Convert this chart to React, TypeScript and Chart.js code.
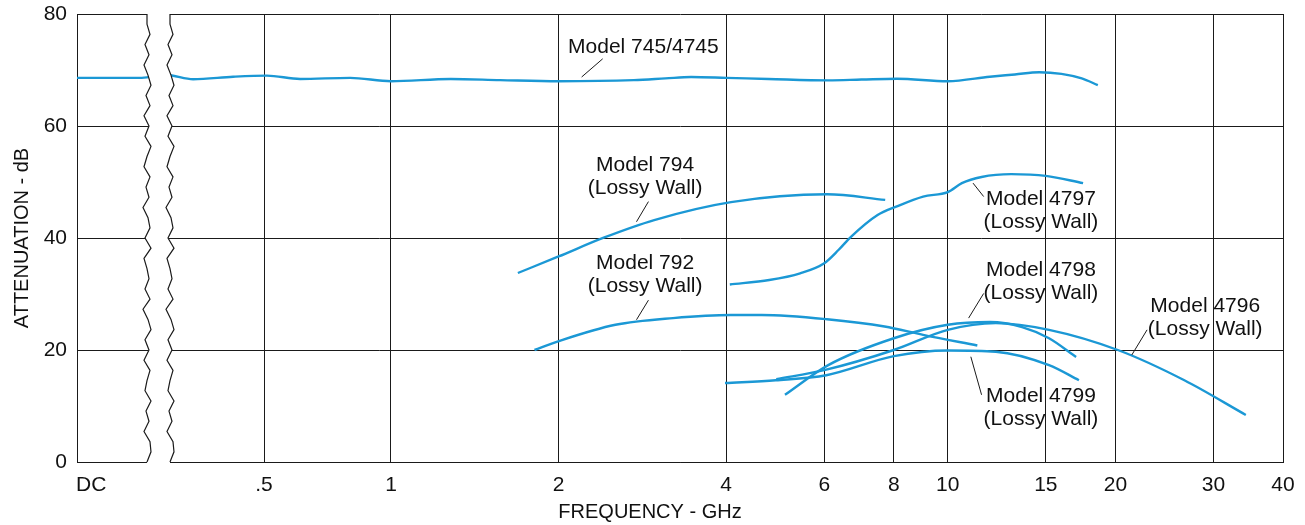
import React, { useEffect, useRef } from 'react';
import { Chart, LinearScale, registerables } from 'chart.js';

// ---------------- data ----------------
const X_TICK_VALUES = [0.035, 0.5, 1, 2, 4, 6, 8, 10, 15, 20, 30, 40];
const X_TICK_LABELS = ['DC', '.5', '1', '2', '4', '6', '8', '10', '15', '20', '30', '40'];
const Y_MIN = 0;
const Y_MAX = 80;
const Y_STEP = 20;

// Model 745/4745 (frequency 0 = DC side of the axis break)
const m745Freq = [0, 0.1, 0.16, 0.215, 0.271, 0.383, 0.508, 0.609, 0.8, 1.0, 1.28, 1.57, 2.0, 2.73, 3.11, 3.46, 4.0, 4.76, 6.1, 7.0, 8.1, 10.0, 11.9, 13.2, 14.6, 16.0, 17.4, 18.6];
const m745Atten = [68.6, 68.6, 68.6, 69.1, 68.35, 68.8, 69.0, 68.4, 68.6, 68.0, 68.4, 68.2, 68.0, 68.2, 68.5, 68.75, 68.6, 68.4, 68.15, 68.3, 68.45, 68.0, 68.8, 69.2, 69.6, 69.3, 68.5, 67.3];

const m794Freq = [1.69, 2.0, 2.41, 2.97, 4.08, 6.07, 7.72];
const m794Atten = [33.75, 36.7, 40.05, 43.2, 46.4, 47.8, 46.8];

const m4797Freq = [4.06, 4.78, 5.43, 6.0, 6.37, 6.7, 7.48, 8.08, 9.03, 10.0, 10.6, 11.5, 13.0, 15.0, 17.5];
const m4797Atten = [31.7, 32.5, 33.7, 35.5, 37.9, 40.2, 44.1, 45.6, 47.4, 48.2, 49.8, 50.9, 51.4, 51.1, 49.8];

const m792Freq = [1.81, 1.99, 2.53, 3.21, 4.08, 4.63, 6.07, 7.7, 9.03, 11.3];
const m792Atten = [20.0, 21.5, 24.5, 25.7, 26.25, 26.25, 25.5, 24.2, 22.7, 20.8];

const m4798Freq = [5.1, 6.1, 8.0, 10.0, 11.9, 13.6, 15.2, 17.0];
const m4798Atten = [12.0, 17.3, 22.1, 24.5, 25.0, 24.1, 22.1, 18.75];

const m4796Freq = [4.92, 6.0, 8.0, 10.0, 12.2, 15.2, 20.2, 26.6, 34.3];
const m4796Atten = [14.8, 16.4, 20.0, 23.6, 24.8, 23.6, 20.0, 14.6, 8.4];

const m4799Freq = [3.98, 4.91, 6.05, 8.0, 10.0, 12.2, 15.2, 17.2];
const m4799Atten = [14.1, 14.6, 15.5, 18.9, 19.9, 19.7, 17.3, 14.6];

// annotation labels (anchored in data units: GHz, dB)
const NOTE_LINES = [
  ['Model 745/4745'],
  ['Model 794', '(Lossy Wall)'],
  ['Model 792', '(Lossy Wall)'],
  ['Model 4797', '(Lossy Wall)'],
  ['Model 4798', '(Lossy Wall)'],
  ['Model 4799', '(Lossy Wall)'],
  ['Model 4796', '(Lossy Wall)'],
];
const NOTE_FREQ = [2.84, 2.86, 2.86, 14.7, 14.7, 14.7, 29.0];
const NOTE_ATTEN = [74.1, 53.0, 35.5, 47.0, 34.3, 11.7, 27.8];
const LEADER_FREQ_A = [2.2, 2.76, 2.76, 11.1, 10.9, 11.0, 21.4];
const LEADER_ATTEN_A = [68.75, 42.9, 25.4, 49.8, 25.7, 18.8, 19.1];
const LEADER_FREQ_B = [2.4, 2.9, 2.9, 11.6, 11.6, 11.5, 22.8];
const LEADER_ATTEN_B = [72.0, 46.5, 28.9, 47.4, 30.1, 12.0, 23.6];

// ---------------- styling ----------------
const BLUE = '#1b98d5';
const INK = '#1a1a1a';
const FONT = "'Liberation Sans', Arial, sans-serif";
const BREAK_VALUE = 0.2;
const JAG = [0, 0, 3, -2, 2, -3, 1, 4, -1, 3, -3, 2, -2, 4, 0, -3, 3, -1, 2, -4, 1, 3, -2, 4, -3, 0, 2, -2, 3, -4, 1, 4, -2, 2, -3, 3, 0, -2, 4, -1, 2, -3, 3, 4, 0];

// broken frequency axis: DC region, break, compressed sub-GHz part, log above 1 GHz
const AXIS_ANCHORS: [number, number][] = [
  [0, 0],
  [0.2, 0.06716],
  [0.5, 0.15506],
  [1, 0.26036],
  [40, 1],
];

function freqToFrac(v: number): number {
  if (v <= 0) return 0;
  for (let i = 1; i < AXIS_ANCHORS.length; i++) {
    if (v <= AXIS_ANCHORS[i][0] || i === AXIS_ANCHORS.length - 1) {
      const [v0, t0] = AXIS_ANCHORS[i - 1];
      const [v1, t1] = AXIS_ANCHORS[i];
      if (v0 === 0) return t0 + (t1 - t0) * (v / v1);
      return t0 + (t1 - t0) * Math.log(v / v0) / Math.log(v1 / v0);
    }
  }
  return 1;
}

function fracToFreq(t: number): number {
  if (t <= 0) return 0;
  for (let i = 1; i < AXIS_ANCHORS.length; i++) {
    if (t <= AXIS_ANCHORS[i][1] || i === AXIS_ANCHORS.length - 1) {
      const [v0, t0] = AXIS_ANCHORS[i - 1];
      const [v1, t1] = AXIS_ANCHORS[i];
      const r = (t - t0) / (t1 - t0);
      if (v0 === 0) return r * v1;
      return v0 * Math.pow(v1 / v0, r);
    }
  }
  return AXIS_ANCHORS[AXIS_ANCHORS.length - 1][0];
}

class BrokenLogScale extends LinearScale {
  static id = 'brokenLog';
  static defaults = { ...(LinearScale as any).defaults };
  getPixelForValue(value: number) {
    return this.getPixelForDecimal(freqToFrac(value));
  }
  getValueForPixel(pixel: number) {
    return fracToFreq(this.getDecimalForPixel(pixel));
  }
}

Chart.register(...registerables, BrokenLogScale as any);

function toPoints(xs: number[], ys: number[]) {
  return xs.map((x, i) => ({ x, y: ys[i] }));
}

const SERIES = [
  { label: 'Model 745/4745', f: m745Freq, a: m745Atten },
  { label: 'Model 794', f: m794Freq, a: m794Atten },
  { label: 'Model 4797', f: m4797Freq, a: m4797Atten },
  { label: 'Model 792', f: m792Freq, a: m792Atten },
  { label: 'Model 4798', f: m4798Freq, a: m4798Atten },
  { label: 'Model 4796', f: m4796Freq, a: m4796Atten },
  { label: 'Model 4799', f: m4799Freq, a: m4799Atten },
];

const breakPlugin = {
  id: 'axisBreak',
  afterDatasetsDraw(chart: any) {
    const { ctx, chartArea } = chart;
    const { top, bottom } = chartArea;
    const cx = chart.scales.x.getPixelForValue(BREAK_VALUE);
    const left = cx - 11;
    const right = cx + 12;
    const n = JAG.length;
    const step = (bottom - top) / (n - 1);
    ctx.save();
    ctx.beginPath();
    ctx.moveTo(left + JAG[0], top - 2);
    for (let i = 0; i < n; i++) ctx.lineTo(left + JAG[i], top + i * step);
    ctx.lineTo(left + JAG[n - 1], bottom + 2);
    ctx.lineTo(right + JAG[n - 1], bottom + 2);
    for (let i = n - 1; i >= 0; i--) ctx.lineTo(right + JAG[i], top + i * step);
    ctx.lineTo(right + JAG[0], top - 2);
    ctx.closePath();
    ctx.fillStyle = '#ffffff';
    ctx.fill();
    ctx.strokeStyle = INK;
    ctx.lineWidth = 1.2;
    ctx.lineJoin = 'miter';
    for (const base of [left, right]) {
      ctx.beginPath();
      for (let i = 0; i < n; i++) {
        const x = base + JAG[i];
        const y = top + i * step;
        if (i === 0) ctx.moveTo(x, y);
        else ctx.lineTo(x, y);
      }
      ctx.stroke();
    }
    ctx.restore();
  },
};

const notesPlugin = {
  id: 'notes',
  afterDraw(chart: any) {
    const { ctx, chartArea } = chart;
    const xs = chart.scales.x;
    const ys = chart.scales.y;
    ctx.save();
    ctx.fillStyle = '#111';
    ctx.strokeStyle = INK;
    ctx.lineWidth = 1;
    ctx.font = `21px ${FONT}`;
    ctx.textAlign = 'center';
    ctx.textBaseline = 'middle';
    NOTE_LINES.forEach((lines, i) => {
      const x = xs.getPixelForValue(NOTE_FREQ[i]);
      const y = ys.getPixelForValue(NOTE_ATTEN[i]);
      lines.forEach((t, j) => ctx.fillText(t, x, y + j * 23));
      ctx.beginPath();
      ctx.moveTo(xs.getPixelForValue(LEADER_FREQ_A[i]), ys.getPixelForValue(LEADER_ATTEN_A[i]));
      ctx.lineTo(xs.getPixelForValue(LEADER_FREQ_B[i]), ys.getPixelForValue(LEADER_ATTEN_B[i]));
      ctx.stroke();
    });
    // axis titles
    ctx.font = `20px ${FONT}`;
    ctx.fillText('FREQUENCY - GHz', (chartArea.left + chartArea.right) / 2 - 30, 512);
    ctx.translate(22, (chartArea.top + chartArea.bottom) / 2);
    ctx.rotate(-Math.PI / 2);
    ctx.fillText('ATTENUATION - dB', 0, 0);
    ctx.restore();
  },
};

export default function App() {
  const ref = useRef<HTMLCanvasElement>(null);
  useEffect(() => {
    document.body.style.margin = '0';
    const canvas = ref.current;
    if (!canvas) return;
    const chart = new Chart(canvas, {
      type: 'line',
      data: {
        datasets: SERIES.map((s) => ({
          label: s.label,
          data: toPoints(s.f, s.a),
          borderColor: BLUE,
          borderWidth: 2.4,
          pointRadius: 0,
          fill: false,
          cubicInterpolationMode: 'monotone',
        })),
      },
      options: {
        animation: false,
        responsive: false,
        devicePixelRatio: 1,
        layout: { padding: { left: 0, top: 14, right: 22, bottom: 0 } },
        plugins: { legend: { display: false }, tooltip: { enabled: false } },
        scales: {
          x: {
            type: 'brokenLog' as any,
            min: 0,
            max: 40,
            afterBuildTicks: (scale: any) => {
              scale.ticks = X_TICK_VALUES.map((v) => ({ value: v }));
            },
            afterFit: (scale: any) => {
              scale.height = 63;
              scale.paddingLeft = 0;
              scale.paddingRight = 0;
            },
            ticks: {
              autoSkip: false,
              maxRotation: 0,
              minRotation: 0,
              padding: 11,
              color: '#111',
              font: { family: FONT, size: 21 },
              callback: (_v: any, i: number) => X_TICK_LABELS[i],
            },
            grid: {
              drawTicks: false,
              lineWidth: 1,
              color: (c: any) => (c.tick && c.tick.value < BREAK_VALUE ? 'rgba(0,0,0,0)' : INK),
            },
            border: { display: true, color: INK, width: 1 },
          },
          y: {
            type: 'linear',
            min: Y_MIN,
            max: Y_MAX,
            afterFit: (scale: any) => {
              scale.width = 77;
              scale.paddingTop = 0;
              scale.paddingBottom = 0;
            },
            ticks: {
              stepSize: Y_STEP,
              padding: 10,
              color: '#111',
              font: { family: FONT, size: 21 },
            },
            grid: { drawTicks: false, lineWidth: 1, color: INK },
            border: { display: true, color: INK, width: 1 },
          },
        },
      },
      plugins: [breakPlugin, notesPlugin],
    } as any);
    return () => chart.destroy();
  }, []);
  return (
    <div style={{ width: 1305, height: 525, background: '#ffffff' }}>
      <canvas ref={ref} width={1305} height={525} style={{ display: 'block' }} />
    </div>
  );
}
